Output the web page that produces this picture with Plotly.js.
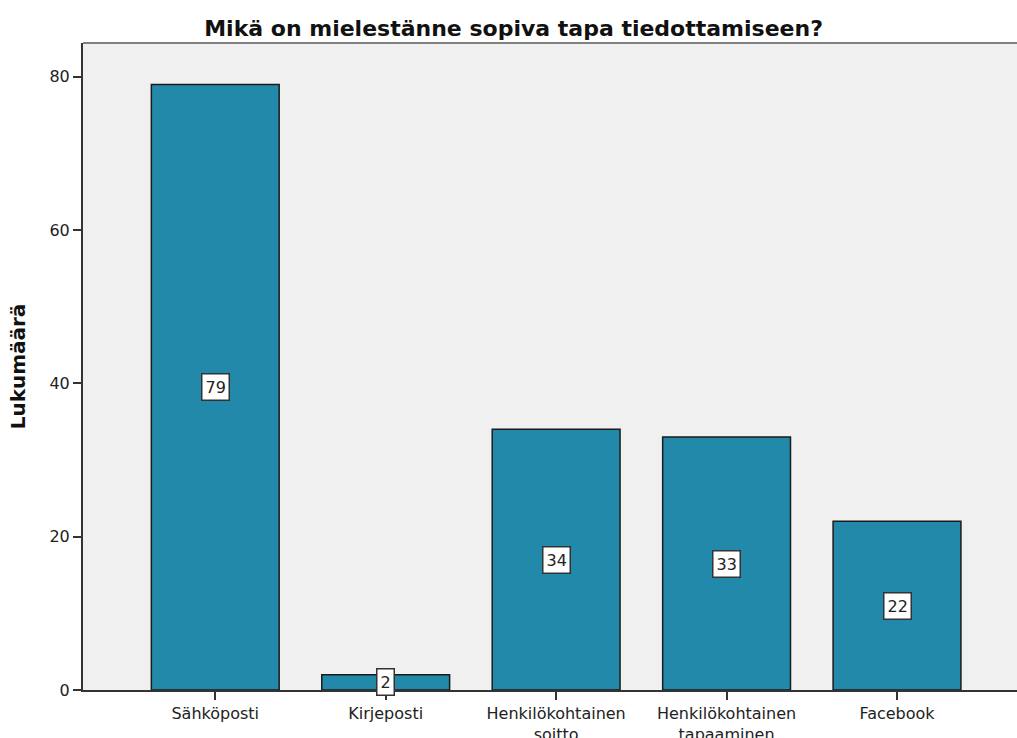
<!DOCTYPE html>
<html>
<head>
<meta charset="utf-8">
<script src="https://cdn.plot.ly/plotly-3.0.1.min.js"></script>
<style>html,body{margin:0;padding:0;background:#fff;}#chart{width:1017px;height:738px;}</style>
</head>
<body>
<div id="chart"></div>
<script>
const categories = ["Sähköposti", "Kirjeposti", "Henkilökohtainen<br>soitto", "Henkilökohtainen<br>tapaaminen", "Facebook"];
const counts = [79, 2, 34, 33, 22];
const yTicks = [0, 20, 40, 60, 80];

const xIdx = categories.map((c, i) => i);
const FONT = "DejaVu Sans, Verdana, sans-serif";

const trace = {
  type: "bar",
  x: xIdx,
  y: counts,
  width: 0.75,
  marker: { color: "#2389ab", line: { color: "#1b1b1b", width: 1.5 } },
  hoverinfo: "skip"
};

const annotations = counts.map((v, i) => ({
  x: i, y: v / 2, xref: "x", yref: "y",
  text: String(v), showarrow: false,
  font: { family: FONT, size: 16, color: "#222" },
  bgcolor: "#ffffff", bordercolor: "#333", borderwidth: 1.5, borderpad: 3
}));

const layout = {
  width: 1017, height: 738,
  margin: { l: 83, r: 0, t: 43, b: 48 },
  paper_bgcolor: "#ffffff",
  plot_bgcolor: "#f0f0f0",
  showlegend: false,
  font: { family: FONT, color: "#222" },
  title: {
    text: "<b>Mikä on mielestänne sopiva tapa tiedottamiseen?</b>",
    font: { family: FONT, size: 22, color: "#111" },
    x: 0.505, xanchor: "center", y: 0.962, yanchor: "middle"
  },
  xaxis: {
    range: [-0.776, 4.704],
    tickmode: "array", tickvals: xIdx, ticktext: categories,
    ticks: "outside", ticklen: 8, tickwidth: 2, tickcolor: "#333",
    showline: true, linecolor: "#333", linewidth: 2,
    showgrid: false, zeroline: false,
    tickfont: { family: FONT, size: 16, color: "#222" },
    fixedrange: true
  },
  yaxis: {
    range: [0, 84.4],
    tickmode: "array", tickvals: yTicks,
    ticks: "outside", ticklen: 8, tickwidth: 2, tickcolor: "#333",
    showline: true, linecolor: "#333", linewidth: 2,
    showgrid: false, zeroline: false,
    tickfont: { family: FONT, size: 16, color: "#222" },
    title: { text: "<b>Lukumäärä</b>", font: { family: FONT, size: 20, color: "#111" }, standoff: 18 },
    fixedrange: true
  },
  shapes: [{
    type: "line", xref: "paper", yref: "paper", x0: 0, x1: 1, y0: 1, y1: 1,
    line: { color: "#808080", width: 2 }
  }],
  annotations: annotations
};

Plotly.newPlot("chart", [trace], layout, { displayModeBar: false, staticPlot: true });
</script>
</body>
</html>
